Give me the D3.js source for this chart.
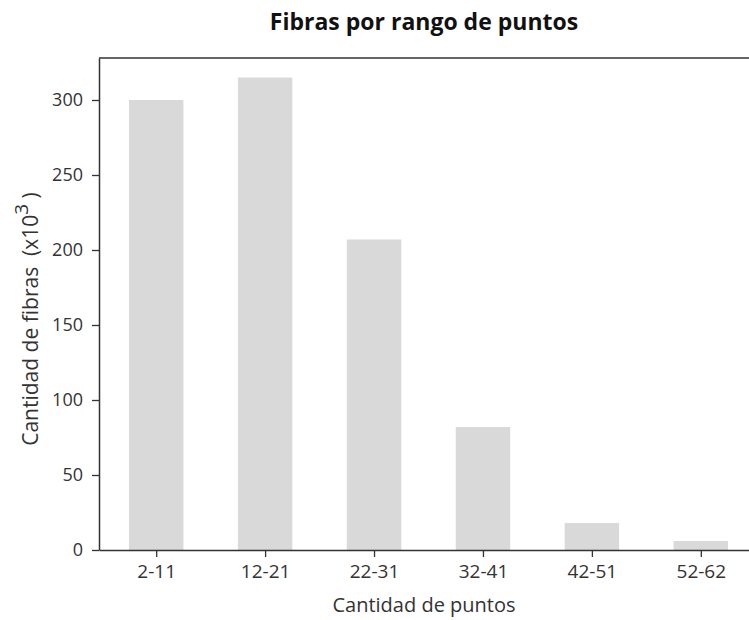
<!DOCTYPE html>
<html>
<head>
<meta charset="utf-8">
<script src="https://cdn.jsdelivr.net/npm/d3@7"></script>
<style>
  html, body { margin: 0; padding: 0; background: #fff; }
  svg { display: block; font-family: "Open Sans", "Noto Sans", sans-serif; }
</style>
</head>
<body>
<svg id="chart" width="749" height="620"></svg>
<script>
// Fiber counts (thousands) per point-range bin
const categories = ["2-11", "12-21", "22-31", "32-41", "42-51", "52-62"];
const values = [300, 315, 207, 82, 18, 6];
const yTicks = [0, 50, 100, 150, 200, 250, 300];

const svg = d3.select("#chart");
const plotLeft = 99, plotTop = 58, plotBottom = 550, plotRight = 758;
const textCenter = 424;

const x = d3.scaleLinear().domain([-0.525, categories.length - 1 + 0.525]).range([plotLeft, plotRight]);
const y = d3.scaleLinear().domain([0, 328]).range([plotBottom, plotTop]);
const barW = x(0.5) - x(0);

// bars
svg.append("g").selectAll("rect").data(values).join("rect")
  .attr("x", (d, i) => x(i) - barW / 2)
  .attr("y", d => y(d))
  .attr("width", barW)
  .attr("height", d => y(0) - y(d))
  .attr("fill", "#d9d9d9");

// y axis
const yAxis = svg.append("g").attr("transform", `translate(${plotLeft},0)`)
  .call(d3.axisLeft(y).tickValues(yTicks).tickSize(7).tickPadding(9).tickSizeOuter(0));
// x axis
const xAxis = svg.append("g").attr("transform", `translate(0,${plotBottom})`)
  .call(d3.axisBottom(x).tickValues(d3.range(categories.length))
    .tickFormat(i => categories[i]).tickSize(7).tickPadding(8).tickSizeOuter(0));

[yAxis, xAxis].forEach(g => {
  g.select(".domain").attr("stroke", "#333").attr("stroke-width", 1.5);
  g.selectAll(".tick line").attr("stroke", "#333").attr("stroke-width", 1.3);
  g.selectAll(".tick text").attr("fill", "#333")
    .style("font-family", "'Open Sans', 'Noto Sans', sans-serif");
});
yAxis.selectAll(".tick text").style("font-size", "18px");
xAxis.selectAll(".tick text").style("font-size", "19px");

// top spine
svg.append("line").attr("x1", plotLeft).attr("x2", plotRight).attr("y1", plotTop).attr("y2", plotTop)
  .attr("stroke", "#333").attr("stroke-width", 1.5);

// title
svg.append("text").attr("x", textCenter).attr("y", 30)
  .attr("text-anchor", "middle").attr("font-weight", "bold").attr("font-size", 23)
  .attr("fill", "#111").text("Fibras por rango de puntos");

// x label
svg.append("text").attr("x", textCenter).attr("y", 612)
  .attr("text-anchor", "middle").attr("font-size", 20).attr("fill", "#333")
  .text("Cantidad de puntos");

// y label with superscript exponent
const yl = svg.append("text")
  .attr("transform", `translate(38,319) rotate(-90)`)
  .attr("text-anchor", "middle").attr("font-size", 21).attr("fill", "#333")
  .attr("xml:space", "preserve").style("white-space", "pre");
yl.append("tspan").text("Cantidad de fibras  (x10");
yl.append("tspan").attr("dy", -10).attr("font-size", 19).text("3");
yl.append("tspan").attr("dy", 10).text(" )");
</script>
</body>
</html>
